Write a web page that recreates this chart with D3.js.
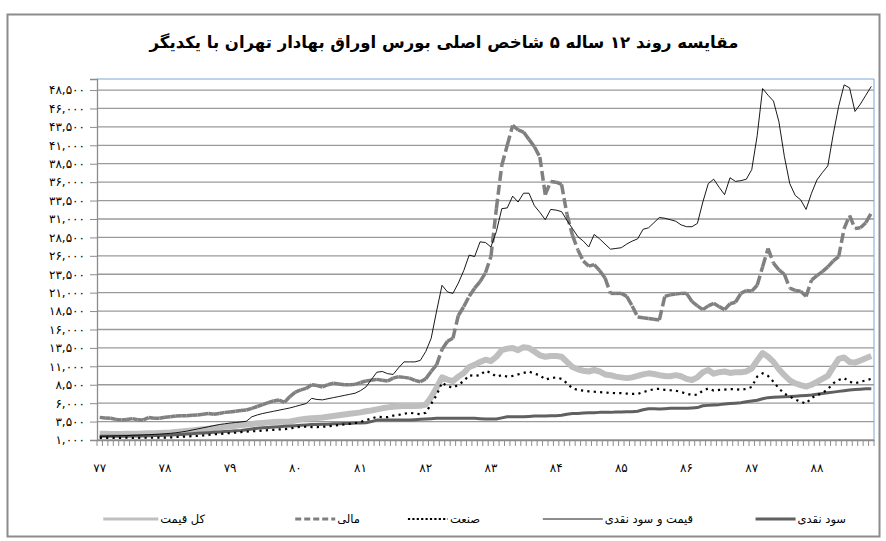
<!DOCTYPE html>
<html>
<head>
<meta charset="utf-8">
<script src="https://cdn.jsdelivr.net/npm/d3@7"></script>
<style>
  body { margin: 0; background: #fff; }
  text { font-family: "DejaVu Sans", sans-serif; }
</style>
</head>
<body>
<svg id="chart"></svg>
<script>
// year labels (one every 12 months)
const years = ["۷۷", "۷۸", "۷۹", "۸۰", "۸۱", "۸۲", "۸۳", "۸۴", "۸۵", "۸۶", "۸۷", "۸۸"];

// y axis ticks
const yTicks = [1000, 3500, 6000, 8500, 11000, 13500, 16000, 18500, 21000, 23500, 26000,
  28500, 31000, 33500, 36000, 38500, 41000, 43500, 46000, 48500];

// monthly values
const dividend = [ // سود نقدی
  1500,1500,1500,1520,1520,1520,1550,1550,1550,1580,
  1600,1620,1650,1680,1720,1760,1800,1850,1900,1950,
  2000,2050,2100,2150,2200,2250,2300,2400,2500,2600,
  2650,2700,2750,2800,2850,2900,2950,3000,3050,3100,
  3100,3150,3150,3200,3200,3250,3250,3300,3300,3350,
  3500,3700,3700,3700,3700,3700,3700,3700,3750,3800,
  3850,3900,3950,3950,3950,3950,3950,3950,3950,3950,
  3900,3850,3850,3850,4000,4150,4150,4150,4150,4200,
  4250,4250,4250,4300,4300,4350,4500,4600,4600,4650,
  4700,4700,4750,4750,4750,4800,4800,4850,4850,4900,
  5100,5250,5250,5200,5250,5300,5300,5300,5300,5350,
  5400,5650,5700,5750,5800,5900,5950,6000,6050,6200,
  6300,6400,6600,6750,6800,6850,6880,6900,6950,7000,
  7050,7100,7200,7300,7400,7500,7600,7700,7800,7850,
  7900,7950,7950];

const tedpix = [ // قیمت و سود نقدی
  1500,1520,1540,1560,1580,1600,1630,1660,1690,1720,
  1760,1800,1850,1900,1980,2080,2200,2350,2500,2650,
  2800,2950,3100,3200,3300,3380,3450,3550,4150,4400,
  4600,4750,4900,5050,5200,5350,5550,5750,5950,6650,
  6500,6450,6600,6750,6900,7050,7200,7350,7700,8200,
  9200,10200,10300,10000,9900,10800,11600,11600,11600,11800,
  13000,14800,18500,22000,21100,20900,22300,24000,26100,25900,
  27900,27800,27200,29300,32400,32500,34100,33300,34500,34500,
  32800,31900,30900,32300,32200,32000,30800,29700,28600,28000,
  27200,28900,28300,27600,26900,27000,27100,27600,28000,28300,
  29600,29800,30500,31200,31100,30900,30700,30200,29950,29950,
  30400,33300,35800,36400,35300,34300,36600,36100,36200,36400,
  37700,42300,48700,47800,47000,44200,39500,35800,34200,33600,
  32300,34500,36300,37300,38200,42500,46300,49200,48800,45600,
  46600,47800,49000];

const industry = [ // صنعت
  1300,1300,1300,1290,1300,1310,1300,1300,1310,1300,
  1310,1320,1330,1350,1400,1450,1480,1520,1560,1620,
  1700,1770,1820,1880,1950,2000,2080,2130,2180,2230,
  2280,2330,2380,2430,2480,2550,2700,2800,2800,2750,
  2750,2800,2850,2950,3030,3100,3200,3280,3450,3700,
  3900,4160,4100,4100,4300,4400,4550,4700,4600,4500,
  4700,5900,7100,8800,8300,8100,8500,9000,9800,9700,
  9800,10400,10100,9600,9800,9600,9700,9900,10100,10300,
  10000,9800,9200,9400,9500,9300,8700,8000,7800,7700,
  7600,7550,7500,7450,7400,7350,7350,7300,7250,7250,
  7500,7700,7900,7950,7800,7750,7700,7500,7300,7100,
  7150,7700,8000,7700,7800,7850,7900,7900,7800,7950,
  8200,9600,10050,9700,8900,8000,7300,6900,6500,6200,
  5950,6700,7100,7350,7900,8700,9150,9400,8900,8700,
  8900,9100,9300];

const financial = [ // مالی
  4070,4000,3950,3800,3720,3780,3900,3750,3720,4050,
  3950,3950,4100,4150,4250,4280,4300,4350,4400,4500,
  4600,4500,4600,4750,4800,4900,5000,5070,5300,5550,
  5800,6060,6300,6430,6100,6900,7500,7800,8000,8500,
  8400,8200,8500,8700,8600,8500,8500,8550,8800,9000,
  9100,9230,9100,9000,9400,9600,9500,9400,9100,8900,
  9300,10300,11200,13300,14400,14800,17900,19100,20500,21600,
  22500,23700,25900,32400,38300,41000,43700,43100,42800,41800,
  40800,39400,34300,36100,36000,35700,31600,28800,26800,25300,
  24600,24800,24000,23000,20900,20900,20900,20500,19200,17700,
  17600,17500,17400,17300,20500,20700,20800,20900,20900,19800,
  19200,18700,19200,19550,19100,18700,19500,19700,20900,21300,
  21200,22000,24500,27000,25000,24100,23500,21600,21300,21200,
  20500,22700,23300,23850,24500,25300,25900,29700,31500,29700,
  29800,30500,31800];

const priceIndex = [ // کل قیمت
  1850,1850,1830,1820,1830,1850,1860,1850,1870,1900,
  1920,1950,1980,2020,2080,2150,2220,2300,2380,2460,
  2540,2620,2700,2780,2860,2940,3020,3100,3180,3260,
  3320,3380,3430,3470,3490,3520,3650,3800,3900,3950,
  4000,4050,4150,4250,4350,4450,4550,4650,4750,4900,
  5000,5150,5300,5430,5500,5580,5620,5610,5620,5650,
  5800,6800,8100,9500,9200,9000,9600,10100,10900,11200,
  11600,11900,11700,12300,13200,13400,13500,13200,13600,13500,
  13000,12500,12300,12400,12400,12300,11600,10900,10600,10400,
  10300,10500,10300,9900,9800,9600,9500,9400,9500,9700,
  9900,10050,9950,9800,9700,9650,9800,9650,9300,9150,
  9500,10200,10500,10000,10200,10300,10100,10200,10200,10300,
  10700,11800,12800,12300,11600,10600,9800,9100,8700,8450,
  8250,8500,8900,9300,9700,10900,12000,12200,11600,11500,
  11800,12100,12400];

const title = "مقایسه روند ۱۲ ساله ۵ شاخص اصلی بورس اوراق بهادار تهران با یکدیگر";

const width = 886, height = 541;
const plot = { left: 97, right: 874, top: 79, bottom: 440 };

const svg = d3.select("#chart")
  .attr("width", width)
  .attr("height", height);

svg.append("rect").attr("width", width).attr("height", height).attr("fill", "#fff");

// outer chart frame
svg.append("rect")
  .attr("x", 7.5).attr("y", 14.5)
  .attr("width", 872).attr("height", 522)
  .attr("fill", "none")
  .attr("stroke", "#8c8c8c")
  .attr("stroke-width", 2);

// title
svg.append("text")
  .attr("x", 444).attr("y", 48)
  .attr("text-anchor", "middle")
  .style("font-size", "16.5px")
  .style("font-weight", "bold")
  .text(title);

const n = tedpix.length;
const x = d3.scaleBand()
  .domain(d3.range(n))
  .range([plot.left, plot.right]);
const cx = i => x(i) + x.bandwidth() / 2;

const y = d3.scaleLinear()
  .domain([1000, 50000])
  .range([plot.bottom, plot.top]);

const fa = s => String(s).replace(/\d/g, d => "۰۱۲۳۴۵۶۷۸۹"[d]);

// gridlines
svg.append("g")
  .selectAll("line")
  .data(yTicks)
  .join("line")
  .attr("x1", plot.left).attr("x2", plot.right)
  .attr("y1", d => y(d)).attr("y2", d => y(d))
  .attr("stroke", "#9a9a9a")
  .attr("stroke-width", 1.3);

// plot border (top / right)
svg.append("path")
  .attr("d", `M${plot.left},${plot.top}H${plot.right}V${plot.bottom}`)
  .attr("fill", "none")
  .attr("stroke", "#7ea6d8")
  .attr("stroke-width", 1);

// y axis
const yAxis = d3.axisLeft(y)
  .tickValues(yTicks)
  .tickSize(7)
  .tickPadding(5)
  .tickFormat(d => fa(d3.format(",")(d)));

svg.append("g")
  .attr("transform", `translate(${plot.left},0)`)
  .call(yAxis)
  .call(g => g.select(".domain").attr("stroke", "#8c8c8c").attr("stroke-width", 1.3))
  .call(g => g.selectAll(".tick line").attr("stroke", "#8c8c8c"))
  .call(g => g.selectAll("text")
    .style("font-size", "12px")
    .attr("fill", "#000")
    .style("letter-spacing", "2px"));

// x axis: one tick per month, label every 12th
const xAxis = d3.axisBottom(x)
  .tickSize(0)
  .tickFormat("");

svg.append("g")
  .attr("transform", `translate(0,${plot.bottom})`)
  .call(xAxis)
  .call(g => g.select(".domain").attr("stroke", "#8c8c8c").attr("stroke-width", 1.3));

svg.append("g")
  .selectAll("line")
  .data(d3.range(n + 1))
  .join("line")
  .attr("x1", i => plot.left + i * x.step())
  .attr("x2", i => plot.left + i * x.step())
  .attr("y1", plot.bottom)
  .attr("y2", plot.bottom + 6)
  .attr("stroke", "#8c8c8c")
  .attr("stroke-width", 1);

svg.append("g")
  .selectAll("text")
  .data(years)
  .join("text")
  .attr("x", (d, k) => cx(k * 12))
  .attr("y", 472)
  .attr("text-anchor", "middle")
  .style("font-size", "12px")
  .style("letter-spacing", "1.5px")
  .text(d => d);

const line = d3.line()
  .x((d, i) => cx(i))
  .y(d => y(d));

// کل قیمت
svg.append("path")
  .datum(priceIndex)
  .attr("d", line)
  .attr("fill", "none")
  .attr("stroke", "#bfbfbf")
  .attr("stroke-width", 6)
  .attr("stroke-linejoin", "round");

// سود نقدی
svg.append("path")
  .datum(dividend)
  .attr("d", line)
  .attr("fill", "none")
  .attr("stroke", "#606060")
  .attr("stroke-width", 3)
  .attr("stroke-linejoin", "round");

// مالی: dashes restart on every segment, like the original
svg.append("g")
  .selectAll("path")
  .data(d3.pairs(financial.map((v, i) => [cx(i), y(v)])))
  .join("path")
  .attr("d", d => d3.line()(d))
  .attr("fill", "none")
  .attr("stroke", "#808080")
  .attr("stroke-width", 3.5)
  .attr("stroke-dasharray", "10,4");

// قیمت و سود نقدی
svg.append("path")
  .datum(tedpix)
  .attr("d", line)
  .attr("fill", "none")
  .attr("stroke", "#000")
  .attr("stroke-width", 0.9);

// صنعت
svg.append("path")
  .datum(industry)
  .attr("d", line)
  .attr("fill", "none")
  .attr("stroke", "#000")
  .attr("stroke-width", 2.2)
  .attr("stroke-dasharray", "2.2,4.2");

// legend
const legend = [
  { name: "سود نقدی", right: 846, len: 40, stroke: "#606060", w: 3, dash: null },
  { name: "قیمت و سود نقدی", right: 693, len: 60, stroke: "#000", w: 0.9, dash: null },
  { name: "صنعت", right: 480, len: 40, stroke: "#000", w: 2.2, dash: "2.2,2.2" },
  { name: "مالی", right: 360, len: 40, stroke: "#808080", w: 3, dash: "6,3" },
  { name: "کل قیمت", right: 205, len: 55, stroke: "#bfbfbf", w: 3, dash: null }
];

const lg = svg.append("g")
  .selectAll("g")
  .data(legend)
  .join("g");

lg.append("text")
  .attr("x", d => d.right)
  .attr("y", 523)
  .attr("text-anchor", "end")
  .style("font-size", "11.5px")
  .text(d => d.name);

lg.each(function(d) {
  const tw = this.querySelector("text").getComputedTextLength();
  d3.select(this).append("line")
    .attr("x1", d.right - tw - 2 - d.len)
    .attr("x2", d.right - tw - 2)
    .attr("y1", 519).attr("y2", 519)
    .attr("stroke", d.stroke)
    .attr("stroke-width", d.w)
    .attr("stroke-dasharray", d.dash);
});
</script>
</body>
</html>
